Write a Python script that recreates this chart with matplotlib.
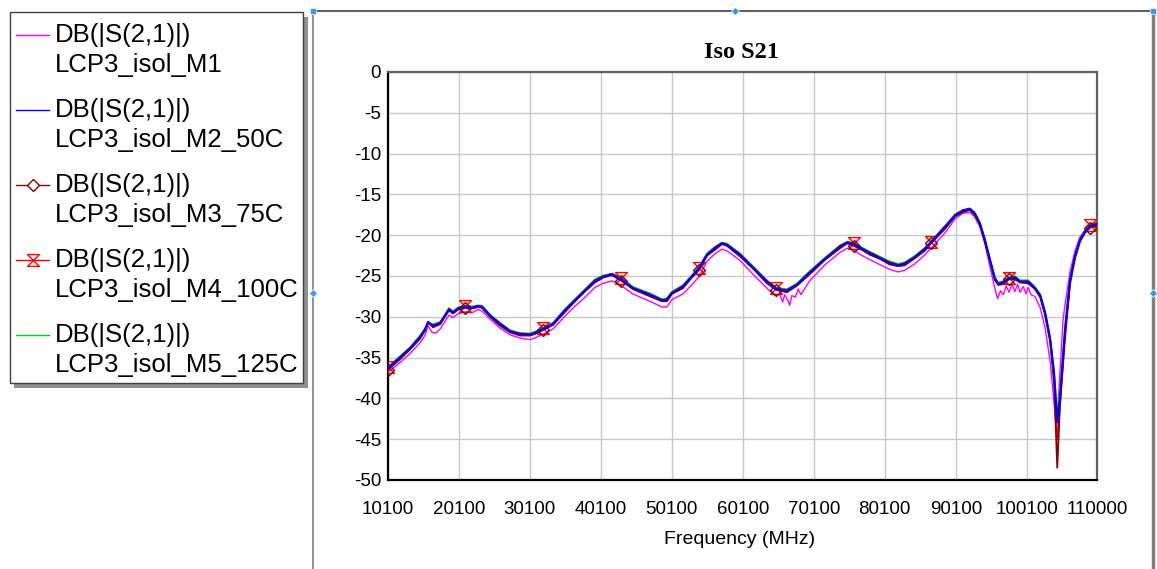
import numpy as np
import matplotlib
matplotlib.use('Agg')
import matplotlib.pyplot as plt
from matplotlib.lines import Line2D
from matplotlib.patches import Rectangle
from matplotlib.path import Path

plt.rcParams['font.family'] = ['Liberation Sans', 'DejaVu Sans']
plt.rcParams['axes.unicode_minus'] = False

# frequency grid (MHz) shared by M2..M5
freq = [10100, 11800, 13200, 14600, 15300, 15750, 16450, 17450, 18700, 19250,
        20000, 21000, 21950, 22800, 23350, 24500, 25900, 27300, 28700, 30100,
        30800, 32000, 33350, 35050, 36450, 37850, 39250, 40400, 41650, 43000,
        44600, 47000, 48700, 49400, 50100, 51650, 53000, 53900, 55050, 56150,
        57150, 57850, 59700, 61550, 63500, 64800, 66300, 67700, 69500, 71700,
        73800, 74800, 75700, 76700, 78000, 79400, 80800, 82000, 82900, 84350,
        85750, 86600, 88600, 90000, 91100, 92100, 92800, 93500, 94200, 94900,
        95600, 96100, 96750, 97600, 98450, 99150, 100300, 101250, 102000, 102700,
        103400, 103950, 104400, 104800, 105500, 106200, 106900, 107600, 108300, 109000,
        110000]

s21_m2 = [-36.3, -35.0, -33.9, -32.5, -31.6, -30.7, -31.1, -30.8, -29.1, -29.5,
          -29.0, -28.8, -28.9, -28.7, -28.8, -29.9, -30.9, -31.8, -32.1, -32.2,
          -32.0, -31.5, -30.9, -29.2, -28.0, -26.8, -25.6, -25.1, -24.8, -25.4,
          -26.5, -27.3, -28.0, -27.9, -27.1, -26.3, -25.0, -24.1, -22.4, -21.6,
          -21.0, -21.2, -22.4, -24.0, -25.7, -26.6, -26.8, -26.1, -24.6, -22.9,
          -21.4, -20.9, -21.1, -21.6, -22.2, -22.8, -23.4, -23.7, -23.5, -22.7,
          -21.7, -20.9, -19.0, -17.6, -17.0, -16.8, -17.4, -18.6, -20.6, -23.0,
          -25.3, -26.0, -25.8, -25.3, -25.2, -25.7, -25.7, -26.5, -27.4, -29.6,
          -32.8, -37.0, -42.9, -39.8, -31.6, -25.5, -22.6, -20.6, -19.6, -18.9,
          -18.6]

s21_m3 = [-36.5, -35.2, -34.0, -32.7, -31.7, -30.6, -31.3, -30.9, -29.2, -29.6,
          -29.1, -28.9, -29.0, -28.8, -28.9, -30.0, -31.1, -31.9, -32.3, -32.3,
          -32.1, -31.6, -31.0, -29.4, -28.1, -26.9, -25.8, -25.2, -24.9, -25.6,
          -26.6, -27.5, -28.1, -28.1, -27.2, -26.5, -25.1, -24.3, -22.5, -21.8,
          -21.1, -21.3, -22.6, -24.1, -25.9, -26.7, -27.0, -26.2, -24.8, -23.0,
          -21.6, -21.0, -21.3, -21.7, -22.4, -22.9, -23.6, -23.8, -23.7, -22.8,
          -21.9, -21.0, -19.2, -17.7, -17.2, -16.9, -17.6, -18.7, -20.8, -23.1,
          -25.5, -26.1, -26.0, -25.4, -25.4, -25.8, -25.9, -26.6, -27.6, -29.8,
          -33.0, -38.0, -48.5, -40.5, -32.5, -26.0, -22.8, -20.8, -19.7, -19.1,
          -18.8]

s21_m4 = [-36.2, -34.9, -33.8, -32.4, -31.5, -30.6, -31.0, -30.7, -29.0, -29.4,
          -28.9, -28.7, -28.8, -28.6, -28.7, -29.8, -30.8, -31.7, -32.0, -32.1,
          -31.9, -31.4, -30.8, -29.1, -27.9, -26.7, -25.5, -25.0, -24.7, -25.3,
          -26.4, -27.2, -27.9, -27.8, -27.0, -26.2, -24.9, -24.0, -22.3, -21.5,
          -20.9, -21.1, -22.3, -23.9, -25.6, -26.5, -26.7, -26.0, -24.5, -22.8,
          -21.3, -20.8, -21.0, -21.5, -22.1, -22.7, -23.3, -23.6, -23.4, -22.6,
          -21.6, -20.8, -18.9, -17.5, -16.9, -16.7, -17.3, -18.5, -20.5, -22.9,
          -25.2, -25.9, -25.7, -25.2, -25.1, -25.6, -25.6, -26.4, -27.3, -29.5,
          -32.7, -37.5, -45.0, -41.0, -32.0, -25.8, -22.5, -20.5, -19.5, -18.8,
          -18.5]

s21_m5 = [-36.1, -34.8, -33.7, -32.3, -31.4, -30.7, -30.9, -30.6, -28.9, -29.3,
          -28.8, -28.6, -28.7, -28.6, -28.6, -29.7, -30.7, -31.6, -32.0, -32.0,
          -31.8, -31.3, -30.7, -29.0, -27.8, -26.6, -25.4, -24.9, -24.7, -25.2,
          -26.3, -27.1, -27.8, -27.7, -26.9, -26.1, -24.8, -23.9, -22.2, -21.4,
          -20.9, -21.0, -22.2, -23.8, -25.5, -26.4, -26.6, -25.9, -24.4, -22.7,
          -21.2, -20.8, -20.9, -21.4, -22.0, -22.6, -23.2, -23.5, -23.3, -22.5,
          -21.5, -20.7, -18.8, -17.4, -16.9, -16.7, -17.2, -18.4, -20.4, -22.8,
          -25.1, -25.8, -25.6, -25.1, -25.0, -25.5, -25.5, -26.3, -27.2, -29.3,
          -32.5, -36.5, -42.0, -39.0, -31.0, -25.3, -22.4, -20.4, -19.4, -18.7,
          -18.4]

# M1 is noisier, own grid
freq_m1 = [10100, 11800, 13200, 14600, 15300, 15750, 16300, 16800, 17450, 18700,
           19250, 20000, 21000, 21950, 22800, 23350, 24500, 25900, 27300, 28700,
           30100, 30800, 32000, 33350, 35050, 36450, 37850, 39250, 40400, 41650,
           43000, 44600, 47000, 48700, 49400, 50100, 51650, 53000, 53900, 55050,
           56150, 57150, 57850, 59700, 61550, 63500, 64300, 64800, 65300, 65700,
           66000, 66400, 66700, 67000, 67500, 67900, 68300, 69500, 71700, 73800,
           74800, 75700, 76700, 78000, 79400, 80800, 82000, 82900, 84350, 85750,
           86600, 88600, 90000, 91100, 92100, 92800, 93500, 94200, 94900, 95600,
           96000, 96400, 96800, 97200, 97600, 98000, 98450, 98800, 99150, 99600,
           100000, 100300, 100700, 101250, 102000, 102700, 103400, 103950, 104300, 104700,
           105200, 105500, 106200, 106900, 107600, 108300, 109000, 110000]
s21_m1 = [-36.8, -35.6, -34.5, -33.2, -32.3, -31.1, -31.9, -32.0, -31.5, -29.8,
          -30.1, -29.6, -29.4, -29.5, -29.1, -29.3, -30.3, -31.4, -32.2, -32.6,
          -32.8, -32.6, -32.1, -31.5, -29.9, -28.7, -27.6, -26.4, -25.9, -25.6,
          -26.2, -27.2, -28.1, -28.8, -28.8, -27.9, -27.2, -26.0, -25.1, -23.2,
          -22.3, -21.7, -21.9, -23.1, -24.8, -26.5, -27.2, -27.4, -27.2, -28.2,
          -27.3, -27.9, -28.6, -27.4, -27.6, -26.6, -27.3, -25.6, -23.6, -22.1,
          -21.6, -21.8, -22.4, -23.0, -23.6, -24.2, -24.5, -24.3, -23.5, -22.4,
          -21.6, -19.7, -18.0, -17.3, -17.2, -17.8, -19.0, -21.0, -23.8, -26.5,
          -27.8, -26.8, -27.3, -26.2, -27.0, -26.0, -26.9, -26.0, -27.0, -26.3,
          -27.2, -26.4, -27.3, -27.5, -28.9, -31.4, -35.5, -40.5, -44.0, -38.0,
          -30.5, -28.5, -24.5, -21.9, -20.2, -19.4, -18.9, -18.5]

marker_idx = [0, 11, 21, 29, 37, 45, 52, 61, 73, 89]

xticks = [10100, 20100, 30100, 40100, 50100, 60100, 70100, 80100, 90100, 100100, 110000]
yticks = [0, -5, -10, -15, -20, -25, -30, -35, -40, -45, -50]

labels = ['DB(|S(2,1)|)\nLCP3_isol_M1', 'DB(|S(2,1)|)\nLCP3_isol_M2_50C',
          'DB(|S(2,1)|)\nLCP3_isol_M3_75C', 'DB(|S(2,1)|)\nLCP3_isol_M4_100C',
          'DB(|S(2,1)|)\nLCP3_isol_M5_125C']

W, H = 1157, 569
def fx(x):
    return x / W
def fy(y):
    return 1 - y / H

# hourglass marker (two triangles tip to tip)
hourglass = Path([(-1, 1), (1, 1), (-1, -1), (1, -1), (-1, 1)],
                 [Path.MOVETO, Path.LINETO, Path.LINETO, Path.LINETO, Path.CLOSEPOLY])

c_m1, c_m2, c_m3, c_m4, c_m5 = '#ff00ff', '#0000ff', '#8b0000', '#ff0000', '#00dd00'
mk_m3 = dict(marker='D', ms=6, mfc='none', mec=c_m3, mew=1.0)
mk_m4 = dict(marker=hourglass, ms=8.5, mfc='none', mec=c_m4, mew=1.0)

fig = plt.figure(figsize=(W / 100, H / 100), dpi=100)
ax = fig.add_axes([fx(388), fy(480), 709 / W, 408 / H])

ax.plot(freq_m1, s21_m1, color=c_m1, lw=1.0, zorder=3)
ax.plot(freq, s21_m5, color=c_m5, lw=1.0, zorder=4)
ax.plot(freq, s21_m4, color=c_m4, lw=1.0, zorder=5, markevery=marker_idx, **mk_m4)
ax.plot(freq, s21_m3, color=c_m3, lw=1.3, zorder=6, markevery=marker_idx, **mk_m3)
ax.plot(freq, s21_m2, color=c_m2, lw=1.6, zorder=7)

ax.set_xlim(10100, 110000)
ax.set_ylim(-50, 0)
ax.set_xticks(xticks)
ax.set_xticklabels([str(t) for t in xticks])
ax.set_yticks(yticks)
ax.set_yticklabels([str(t) for t in yticks])
ax.tick_params(axis='both', length=0, labelsize=13.5)
ax.tick_params(axis='x', pad=15)
ax.tick_params(axis='y', pad=5)
ax.grid(True, color='#c8c8c8', lw=1.0)
ax.set_axisbelow(True)
for side in ['left', 'bottom']:
    ax.spines[side].set_color('black')
    ax.spines[side].set_linewidth(1.6)
for side in ['top', 'right']:
    ax.spines[side].set_color('#606060')
    ax.spines[side].set_linewidth(1.6)

ax.text(0.498, 1.049, 'Iso S21', transform=ax.transAxes, ha='center', va='center',
        fontsize=17.5, fontweight='bold', family='Liberation Serif')
ax.set_xlabel('Frequency (MHz)', fontsize=14)
ax.xaxis.set_label_coords(0.4965, -0.147)
ax.xaxis.label.set_va('center')

# outer chart frame with selection handles
fig.add_artist(Line2D([fx(313), fx(313)], [fy(11), 0], color='#808080', lw=1.2))
fig.add_artist(Line2D([fx(313), fx(1153)], [fy(11), fy(11)], color='#606060', lw=1.5))
fig.add_artist(Line2D([fx(1153), fx(1153)], [fy(11), 0], color='#808080', lw=2.5))
for hx, hy, m in [(313, 11, 's'), (1153, 11, 's'), (735, 11, 'D'), (313, 293, 'D'), (1153, 293, 'D')]:
    fig.add_artist(Line2D([fx(hx)], [fy(hy)], marker=m, ms=4.5, color='#3399ff', mec='white', mew=0.5))

# legend box with shadow
fig.add_artist(Rectangle((fx(14), fy(388)), 294 / W, 371 / H, color='#909090', lw=0))
fig.add_artist(Rectangle((fx(10), fy(383)), 293 / W, 371 / H, facecolor='white',
                         edgecolor='#404040', lw=1.0))
colors = [c_m1, c_m2, c_m3, c_m4, c_m5]
markers = [None, None, mk_m3, mk_m4, None]
for i, (lab, col, mk) in enumerate(zip(labels, colors, markers)):
    y0 = 35 + 75 * i
    fig.add_artist(Line2D([fx(16), fx(49)], [fy(y0), fy(y0)], lw=1.0, color=col))
    if mk is not None:
        st = dict(mk)
        st['mfc'] = 'white'
        fig.add_artist(Line2D([fx(32.5)], [fy(y0)], lw=0, **st))
    line1, line2 = lab.split('\n')
    fig.text(fx(55), fy(y0), line1, fontsize=18.5, va='center', ha='left')
    fig.text(fx(55), fy(y0 + 30), line2, fontsize=18.5, va='center', ha='left')

fig.savefig('out.png', dpi=100)
